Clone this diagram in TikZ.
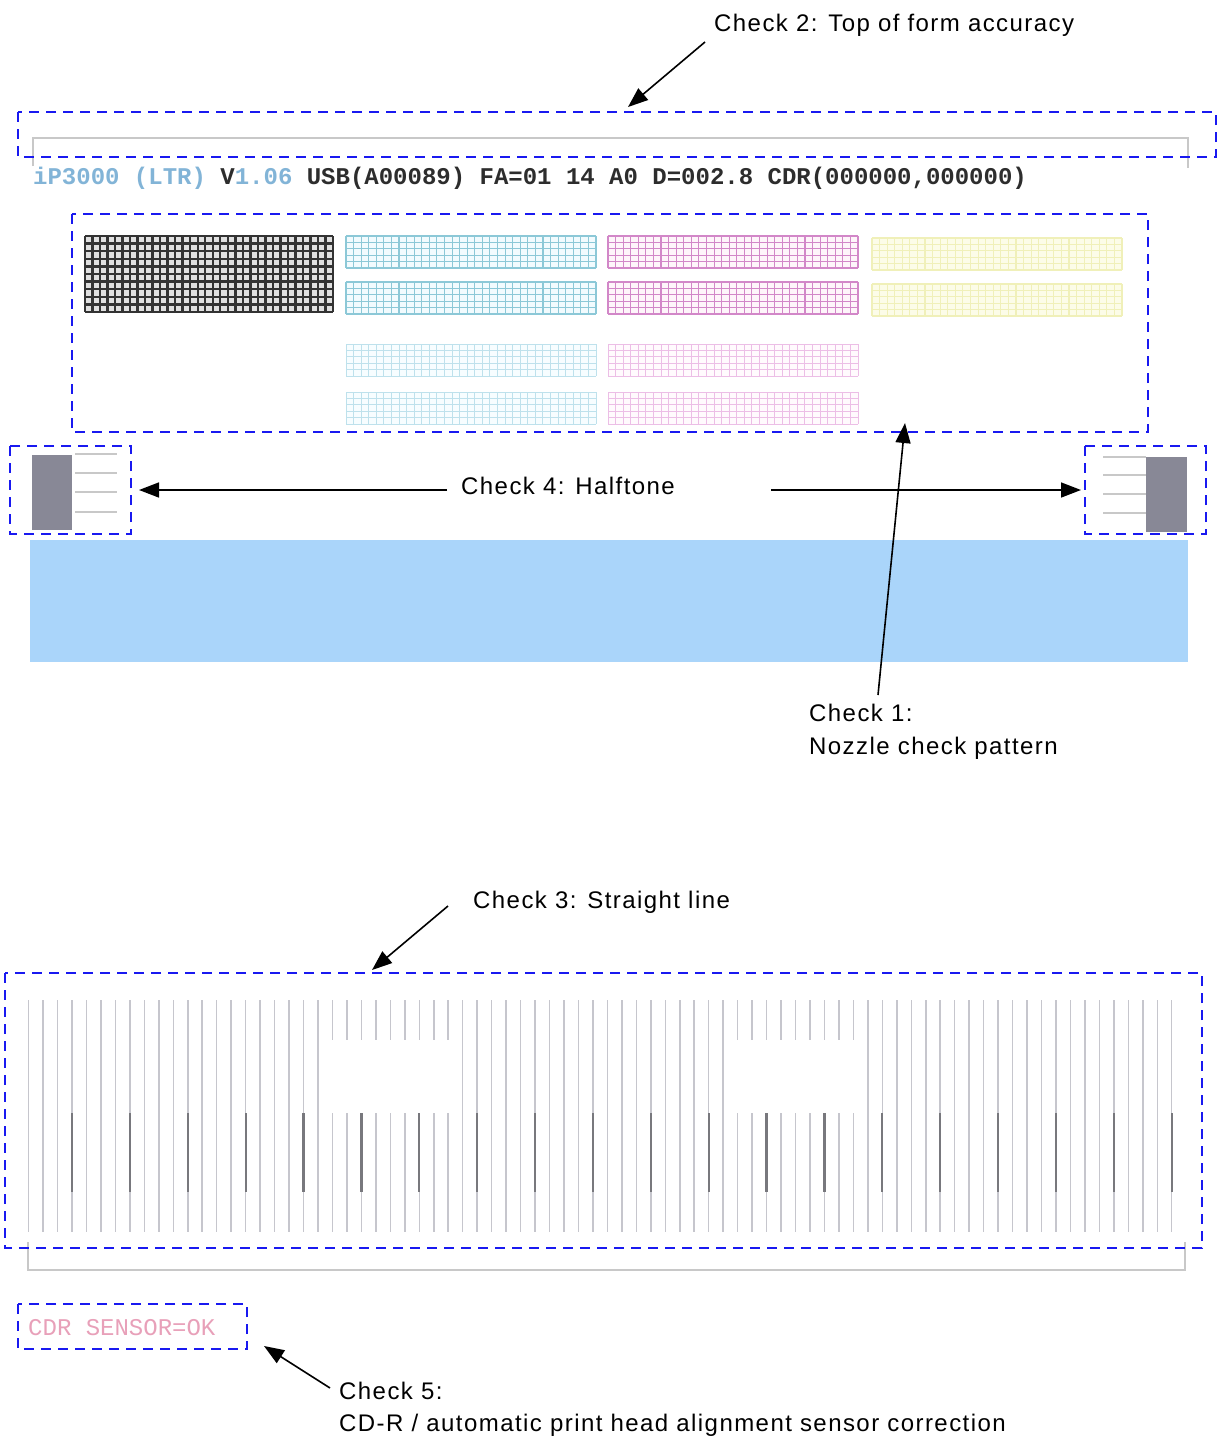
\documentclass[tikz,border=0pt]{standalone}
\usepackage{fontspec}
\setmainfont{Liberation Sans}
\newfontfamily\monof{Liberation Mono}
\usetikzlibrary{arrows.meta}
\definecolor{dashblue}{RGB}{25,25,240}
\definecolor{bandblue}{RGB}{170,213,250}
\definecolor{hdrblue}{RGB}{130,180,215}
\definecolor{hdrdark}{RGB}{45,45,45}
\definecolor{cdrpink}{RGB}{232,160,185}
\definecolor{htgray}{RGB}{136,136,150}
\definecolor{thingray}{RGB}{200,200,200}
\definecolor{lngray}{RGB}{198,198,205}
\definecolor{lndark}{RGB}{120,120,125}
\newcommand\gpatch[7]{%
  \fill[#7F] (#1,#2) rectangle (#3,#4);
  \foreach \i in {0,...,#5} \draw[#7L] ({#1+(#3-#1)*\i/#5},#2) -- ({#1+(#3-#1)*\i/#5},#4);
  \foreach \j in {0,...,#6} \draw[#7L] (#1,{#2+(#4-#2)*\j/#6}) -- (#3,{#2+(#4-#2)*\j/#6});
}
\begin{document}
\begin{tikzpicture}[x=1pt,y=-1pt,
  chk/.style={dashblue, line width=2.2pt, dash pattern=on 10pt off 7pt},
  arr/.style={line width=1.6pt, -{Triangle[length=20pt,width=15pt]}},
  lbl/.style={font=\fontsize{24}{28}\selectfont\addfontfeature{LetterSpace=6}, inner sep=0pt, anchor=base west},
  mono/.style={font=\fontsize{24}{28}\selectfont\monof\bfseries, inner sep=0pt, anchor=base west},
  bracket/.style={draw=thingray, line width=1.5pt},
  blkF/.style={fill=black!12}, blkL/.style={draw=black!80, line width=2.4pt},
  cyaF/.style={fill=cyan!5}, cyaL/.style={draw={rgb,255:red,140;green,200;blue,215}, line width=1.1pt},
  cybF/.style={fill=cyan!3}, cybL/.style={draw={rgb,255:red,190;green,225;blue,236}, line width=1pt},
  magF/.style={fill=magenta!4}, magL/.style={draw={rgb,255:red,210;green,135;blue,200}, line width=1.1pt},
  mgbF/.style={fill=magenta!2}, mgbL/.style={draw={rgb,255:red,236;green,190;blue,230}, line width=1pt},
  yelF/.style={fill={rgb,255:red,252;green,252;blue,232}}, yelL/.style={draw={rgb,255:red,240;green,240;blue,185}, line width=1.1pt}
]
\useasboundingbox[fill=white] (0,0) rectangle (1218,1438);

% ---------- top of form ----------
\draw[bracket] (33,166) -- (33,138) -- (1188,138) -- (1188,168);
\draw[chk] (18,112) rectangle (1216,157);
\node[lbl] (c2) at (714,31) {Check 2: Top of form accuracy};
\coordinate (c2tail) at (705,42);
\coordinate (c2tip) at (628,107);
\draw[arr] (c2tail) -- (c2tip);

\node[mono] (hdr) at (33,184) {\textcolor{hdrblue}{iP3000 (LTR)} \textcolor{hdrdark}{V}\textcolor{hdrblue}{1.06} \textcolor{hdrdark}{USB(A00089) FA=01 14 A0 D=002.8 CDR(000000,000000)}};

% ---------- nozzle check ----------
\gpatch{85}{236}{333}{312}{33}{10}{blk}
\gpatch{346}{236}{596}{268}{33}{5}{cya}
\gpatch{346}{282}{596}{314}{33}{5}{cya}
\gpatch{608}{236}{858}{268}{33}{5}{mag}
\gpatch{608}{282}{858}{314}{33}{5}{mag}
\gpatch{872}{238}{1122}{270}{33}{5}{yel}
\gpatch{872}{284}{1122}{316}{33}{5}{yel}
\gpatch{346}{344}{596}{376}{33}{5}{cyb}
\gpatch{346}{392}{596}{424}{33}{5}{cyb}
\gpatch{608}{344}{858}{376}{33}{5}{mgb}
\gpatch{608}{392}{858}{424}{33}{5}{mgb}
\draw[chk] (72,214) rectangle (1148,432);

% ---------- halftone ----------
\fill[htgray] (32,455) rectangle (72,530);
\foreach \yy in {454,473,492,512} \draw[thingray, line width=1.3pt] (75,\yy) -- (117,\yy);
\fill[htgray] (1146,457) rectangle (1187,532);
\foreach \yy in {457,475,494,513} \draw[thingray, line width=1.3pt] (1103,\yy) -- (1146,\yy);
\draw[chk] (10,446) rectangle (131,534);
\draw[chk] (1085,446) rectangle (1206,534);
\node[lbl] (c4) at (461,494) {Check 4: Halftone};
\coordinate (c4lt) at (447,490);
\coordinate (c4l) at (139,490);
\coordinate (c4rt) at (771,490);
\coordinate (c4r) at (1081,490);
\draw[arr] (c4lt) -- (c4l);
\draw[arr] (c4rt) -- (c4r);

% ---------- blue band ----------
\fill[bandblue] (30,540) rectangle (1188,662);

% ---------- check 1 ----------
\node[lbl] (c1a) at (809,721) {Check 1:};
\node[lbl] (c1b) at (809,754) {Nozzle check pattern};
\coordinate (c1tail) at (878,695);
\coordinate (c1tip) at (905,423);
\draw[arr] (c1tail) -- (c1tip);

% ---------- straight line ----------
\node[lbl] (c3) at (473,908) {Check 3: Straight line};
\coordinate (c3tail) at (448,906);
\coordinate (c3tip) at (372,970);
\draw[arr] (c3tail) -- (c3tip);

\foreach \k in {0,...,79} {
  \pgfmathsetmacro\lx{28.6+14.47*\k}
  \pgfmathtruncatemacro\isgap{((\k>20 && \k<30) || (\k>48 && \k<58)) ? 1 : 0}
  \ifnum\isgap=1
    \draw[lngray, line width=1.5pt] (\lx,1000) -- (\lx,1040);
    \draw[lngray, line width=1.5pt] (\lx,1113) -- (\lx,1232);
  \else
    \draw[lngray, line width=1.5pt] (\lx,1000) -- (\lx,1232);
  \fi
}
\foreach \k in {3,7,...,79} {
  \pgfmathsetmacro\lx{28.6+14.47*\k}
  \draw[lndark, line width=2.2pt] (\lx,1113) -- (\lx,1192);
}
\draw[bracket] (28,1242) -- (28,1270) -- (1185,1270) -- (1185,1242);
\draw[chk] (5,973) rectangle (1202,1248);

% ---------- CDR ----------
\node[mono, font=\fontsize{24}{28}\selectfont\monof, text=cdrpink] (cdr) at (28,1335) {CDR SENSOR=OK};
\draw[chk] (18,1304) rectangle (247,1349);
\node[lbl] (c5a) at (339,1399) {Check 5:};
\node[lbl] (c5b) at (339,1431) {CD-R / automatic print head alignment sensor correction};
\coordinate (c5tail) at (330,1388);
\coordinate (c5tip) at (264,1346);
\draw[arr] (c5tail) -- (c5tip);
\end{tikzpicture}
\end{document}
